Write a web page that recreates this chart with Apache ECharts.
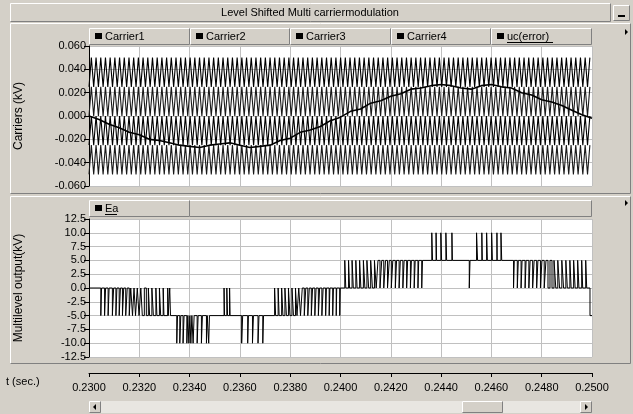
<!DOCTYPE html>
<html>
<head>
<meta charset="utf-8">
<script src="https://cdn.jsdelivr.net/npm/echarts@6/dist/echarts.min.js"></script>
<style>
  html, body { margin: 0; padding: 0; background: #d4d0c8; }
  #chart { width: 633px; height: 414px; }
</style>
</head>
<body>
<div id="chart"></div>
<script>
// time window and tick spacing (seconds)
var tMin = 0.2300, tMax = 0.2500, tStep = 0.002;

// carriers: level shifted bands (kV) and carrier period
var carrierNames = ['Carrier1', 'Carrier2', 'Carrier3', 'Carrier4'];
var carrierLow = [0.025, 0.000, -0.025, -0.050];
var carrierHigh = [0.050, 0.025, 0.000, -0.025];
var carrierColors = ['#000000', '#1a1a1a', '#000000', '#1a1a1a'];
var carrierPeriod = 0.000187;

// reference uc(error)
var ucTimes = [0.2300, 0.2304, 0.2308, 0.2312, 0.2316, 0.2320, 0.2324, 0.2328, 0.2332, 0.2336,
  0.2340, 0.2344, 0.2348, 0.2352, 0.2356, 0.2360, 0.2364, 0.2368, 0.2372, 0.2376,
  0.2380, 0.2384, 0.2388, 0.2392, 0.2396, 0.2400, 0.2404, 0.2408, 0.2412, 0.2416,
  0.2420, 0.2424, 0.2428, 0.2432, 0.2436, 0.2440, 0.2444, 0.2448, 0.2452, 0.2456,
  0.2460, 0.2464, 0.2468, 0.2472, 0.2476, 0.2480, 0.2484, 0.2488, 0.2492, 0.2496, 0.2500];
var ucValues = [0.000, -0.003, -0.007, -0.010, -0.014, -0.016, -0.020, -0.021, -0.023, -0.025,
  -0.026, -0.027, -0.025, -0.024, -0.023, -0.025, -0.027, -0.026, -0.025, -0.021,
  -0.019, -0.014, -0.012, -0.009, -0.004, -0.001, 0.004, 0.006, 0.011, 0.013,
  0.017, 0.019, 0.023, 0.024, 0.026, 0.027, 0.026, 0.024, 0.023, 0.026,
  0.027, 0.025, 0.024, 0.020, 0.018, 0.014, 0.012, 0.009, 0.005, 0.001, -0.002];

// Ea switching instants [time, level after switch] (kV), run by run
var eaRunA = [[0.23000, 0],
  [0.23047, -5], [0.23050, 0], [0.23062, -5], [0.23066, 0], [0.23076, -5], [0.23080, 0],
  [0.23093, -5], [0.23098, 0], [0.23107, -5], [0.23111, 0], [0.23120, -5], [0.23125, 0],
  [0.23133, -5], [0.23138, 0], [0.23146, -5], [0.23152, 0], [0.23160, -5], [0.23166, 0],
  [0.23173, -5], [0.23179, 0], [0.23185, -5], [0.23192, 0], [0.23199, -5], [0.23206, 0],
  [0.23212, -5], [0.23220, 0], [0.23228, -5], [0.23236, 0], [0.23241, -5], [0.23250, 0],
  [0.23256, -5], [0.23266, 0], [0.23270, -5], [0.23280, 0], [0.23285, -5], [0.23295, 0],
  [0.23298, -5], [0.23313, 0], [0.23315, -5], [0.23321, 0], [0.23324, -5]];
var eaRunB = [
  [0.23349, -10], [0.23352, -5], [0.23361, -10], [0.23365, -5], [0.23374, -10], [0.23378, -5],
  [0.23389, -10], [0.23393, -5], [0.23397, -10], [0.23401, -5], [0.23405, -10], [0.23409, -5],
  [0.23414, -10], [0.23418, -5], [0.23430, -10], [0.23434, -5], [0.23447, -10], [0.23451, -5],
  [0.23467, -10], [0.23470, -5], [0.23476, -10], [0.23479, -5]];
var eaRunC = [[0.23537, 0], [0.23539, -5], [0.23548, 0], [0.23551, -5], [0.23559, 0], [0.23561, -5]];
var eaRunD = [
  [0.23607, -10], [0.23611, -5], [0.23631, -10], [0.23634, -5], [0.23650, -10], [0.23654, -5],
  [0.23672, -10], [0.23676, -5], [0.23691, -10], [0.23694, -5]];
var eaRunE = [
  [0.23738, 0], [0.23742, -5], [0.23752, 0], [0.23756, -5], [0.23766, 0], [0.23771, -5],
  [0.23779, 0], [0.23785, -5], [0.23793, 0], [0.23799, -5], [0.23807, 0], [0.23813, -5],
  [0.23821, 0], [0.23827, -5], [0.23834, 0], [0.23841, -5], [0.23848, 0], [0.23856, -5],
  [0.23862, 0], [0.23870, -5], [0.23876, 0], [0.23884, -5], [0.23889, 0], [0.23898, -5],
  [0.23903, 0], [0.23912, -5], [0.23917, 0], [0.23926, -5], [0.23931, 0], [0.23941, -5],
  [0.23944, 0], [0.23955, -5], [0.23958, 0], [0.23969, -5], [0.23972, 0], [0.23983, -5],
  [0.23985, 0], [0.23997, -5], [0.23999, 0]];
var eaRunF = [
  [0.24017, 5], [0.24021, 0], [0.24032, 5], [0.24036, 0], [0.24046, 5], [0.24051, 0],
  [0.24061, 5], [0.24066, 0], [0.24076, 5], [0.24081, 0], [0.24091, 5], [0.24097, 0],
  [0.24105, 5], [0.24112, 0], [0.24120, 5], [0.24127, 0], [0.24135, 5], [0.24142, 0],
  [0.24149, 5], [0.24157, 0], [0.24164, 5], [0.24172, 0], [0.24179, 5], [0.24187, 0],
  [0.24194, 5], [0.24202, 0], [0.24208, 5], [0.24218, 0], [0.24223, 5], [0.24233, 0],
  [0.24238, 5], [0.24248, 0], [0.24253, 5], [0.24263, 0], [0.24267, 5], [0.24278, 0],
  [0.24282, 5], [0.24293, 0], [0.24297, 5], [0.24308, 0], [0.24311, 5], [0.24323, 0],
  [0.24326, 5]];
var eaRunG = [
  [0.24363, 10], [0.24366, 5], [0.24380, 10], [0.24382, 5], [0.24399, 10], [0.24402, 5],
  [0.24419, 10], [0.24422, 5], [0.24443, 10], [0.24445, 5]];
var eaRunH = [[0.24512, 0], [0.24515, 5]];
var eaRunI = [
  [0.24541, 10], [0.24545, 5], [0.24562, 10], [0.24564, 5], [0.24581, 10], [0.24584, 5],
  [0.24601, 10], [0.24604, 5], [0.24622, 10], [0.24623, 5], [0.24638, 10], [0.24641, 5]];
var eaRunJ = [
  [0.24688, 0], [0.24691, 5], [0.24703, 0], [0.24707, 5], [0.24718, 0], [0.24722, 5],
  [0.24734, 0], [0.24738, 5], [0.24749, 0], [0.24754, 5], [0.24764, 0], [0.24770, 5],
  [0.24780, 0], [0.24785, 5], [0.24795, 0], [0.24801, 5], [0.24810, 0], [0.24817, 5],
  [0.24825, 0], [0.24833, 5], [0.24841, 0], [0.24849, 5], [0.24856, 0], [0.24864, 5],
  [0.24871, 0], [0.24880, 5], [0.24887, 0], [0.24896, 5], [0.24902, 0], [0.24912, 5],
  [0.24917, 0], [0.24927, 5], [0.24933, 0], [0.24943, 5], [0.24948, 0], [0.24959, 5],
  [0.24963, 0], [0.24975, 5], [0.24979, 0], [0.24992, -5], [0.25000, -5]];

var FONT = '"Liberation Sans", Arial, sans-serif';
var PANEL = '#d4d0c8';

function carrierData(lo, hi) {
  var pts = [], n = 0, t = tMin;
  while (t <= tMax + 1e-9) {
    pts.push([t, n % 2 ? hi : lo]);
    n++;
    t = tMin + n * carrierPeriod / 2;
  }
  return pts;
}

function eaData() {
  return [].concat(eaRunA, eaRunB, eaRunC, eaRunD, eaRunE, eaRunF, eaRunG, eaRunH, eaRunI, eaRunJ);
}

function ucData() {
  var d = [];
  for (var i = 0; i < ucTimes.length; i++)
    d.push([ucTimes[i], ucValues[i]]);
  return d;
}

// windows-style raised box
function bevel(x, y, w, h, fill) {
  var els = [];
  if (fill)
    els.push({ type: 'rect', shape: { x: x, y: y, width: w, height: h }, style: { fill: fill } });
  els.push({ type: 'polyline', shape: { points: [[x + 0.5, y + h - 0.5], [x + 0.5, y + 0.5], [x + w - 0.5, y + 0.5]] },
    style: { stroke: '#ffffff', lineWidth: 1, fill: null } });
  els.push({ type: 'polyline', shape: { points: [[x + 0.5, y + h - 0.5], [x + w - 0.5, y + h - 0.5], [x + w - 0.5, y + 0.5]] },
    style: { stroke: '#808080', lineWidth: 1, fill: null } });
  return els;
}

function label(txt, x, y, size, align, rot) {
  return {
    type: 'text', x: x, y: y, rotation: rot || 0,
    style: { text: txt, fill: '#000', font: size + 'px ' + FONT,
      align: align, textAlign: align, verticalAlign: 'middle', textVerticalAlign: 'middle' }
  };
}

function tab(x, y, w, name, underline) {
  var els = bevel(x, y, w, 17, PANEL);
  els.push({ type: 'rect', shape: { x: x + 6, y: y + 5, width: 7, height: 6 }, style: { fill: '#000' } });
  els.push(label(name, x + 16, y + 8.5, 11, 'left'));
  if (underline)
    els.push({ type: 'line', shape: { x1: x + 16, y1: y + 14.5, x2: x + 16 + underline, y2: y + 14.5 },
      style: { stroke: '#000', lineWidth: 1 } });
  return els;
}

function arrow(x, y, dir) {
  var pts = dir > 0 ? [[x, y - 3], [x + 3, y], [x, y + 3]] : [[x + 3, y - 3], [x, y], [x + 3, y + 3]];
  return { type: 'polygon', shape: { points: pts }, style: { fill: '#000' } };
}

var graphics = [];
graphics = graphics.concat(bevel(10, 3, 601, 19, PANEL));
graphics.push(label('Level Shifted Multi carriermodulation', 310, 12.5, 11, 'center'));
graphics = graphics.concat(bevel(613, 5, 17, 16, PANEL));
graphics.push({ type: 'line', shape: { x1: 618, y1: 16, x2: 625, y2: 16 }, style: { stroke: '#000', lineWidth: 2 } });
graphics = graphics.concat(bevel(10, 23, 621, 171));
graphics = graphics.concat(bevel(10, 196, 621, 168));

var tabX = [89, 190, 290, 391, 491, 592];
for (var i = 0; i < 5; i++) {
  var nm = i < 4 ? carrierNames[i] : 'uc(error)';
  graphics = graphics.concat(tab(tabX[i], 28, tabX[i + 1] - tabX[i], nm, i == 4 ? 46 : 0));
}
graphics = graphics.concat(bevel(89, 200, 503, 17, PANEL));
graphics = graphics.concat(tab(89, 200, 101, 'Ea', 12));
graphics.push(arrow(625, 32, 1));
graphics.push(arrow(625, 203, 1));

graphics.push(label('Carriers (kV)', 19, 116, 12, 'center', Math.PI / 2));
graphics.push(label('Multilevel output(kV)', 19, 288, 12, 'center', Math.PI / 2));
graphics.push(label('t (sec.)', 6, 382, 11, 'left'));

// scroll bar
graphics.push({ type: 'rect', shape: { x: 89, y: 401, width: 503, height: 12 }, style: { fill: '#e8e6e1' } });
graphics = graphics.concat(bevel(89, 401, 12, 12, PANEL));
graphics = graphics.concat(bevel(580, 401, 12, 12, PANEL));
graphics = graphics.concat(bevel(462, 401, 41, 12, PANEL));
graphics.push(arrow(93, 407, -1));
graphics.push(arrow(585, 407, 1));

function plotX(gi) {
  return {
    type: 'value', gridIndex: gi, min: tMin, max: tMax, interval: tStep,
    axisLine: { show: false }, axisTick: { show: false }, axisLabel: { show: false },
    splitLine: { show: true, lineStyle: { color: '#c0c0c0', width: 1 } }
  };
}

function plotY(gi, min, max, step, digits) {
  return {
    type: 'value', gridIndex: gi, min: min, max: max, interval: step,
    axisLine: { show: true, lineStyle: { color: '#000', width: 1 } },
    axisTick: { show: true, length: 5, lineStyle: { color: '#000' } },
    axisLabel: { margin: 3, color: '#000', fontSize: 11, fontFamily: FONT,
      formatter: function (v) { return Math.abs(v) < 1e-9 ? (0).toFixed(digits) : v.toFixed(digits); } },
    splitLine: { show: true, lineStyle: { color: '#c0c0c0', width: 1 } }
  };
}

var series = [];
for (var k = 0; k < carrierNames.length; k++) {
  series.push({
    name: carrierNames[k], type: 'line', xAxisIndex: 0, yAxisIndex: 0,
    data: carrierData(carrierLow[k], carrierHigh[k]),
    symbol: 'none', silent: true,
    lineStyle: { color: carrierColors[k], width: 1.1 }
  });
}
series.push({
  name: 'uc(error)', type: 'line', xAxisIndex: 0, yAxisIndex: 0, data: ucData(),
  symbol: 'none', silent: true, z: 3,
  lineStyle: { color: '#000', width: 1.6 }
});
series.push({
  name: 'Ea', type: 'line', step: 'end', xAxisIndex: 1, yAxisIndex: 1, data: eaData(),
  symbol: 'none', silent: true,
  lineStyle: { color: '#000', width: 1 }
});

var chart = echarts.init(document.getElementById('chart'));
chart.setOption({
  animation: false,
  backgroundColor: PANEL,
  textStyle: { fontFamily: FONT },
  grid: [
    { left: 89, top: 46, width: 503, height: 140, show: true, backgroundColor: '#ffffff', borderWidth: 0 },
    { left: 89, top: 219, width: 503, height: 138, show: true, backgroundColor: '#ffffff', borderWidth: 0 },
    { left: 89, top: 372, width: 503, height: 1 }
  ],
  xAxis: [
    plotX(0), plotX(1),
    {
      type: 'value', gridIndex: 2, min: tMin, max: tMax, interval: tStep,
      axisLine: { lineStyle: { color: '#000' } },
      axisTick: { length: 4, lineStyle: { color: '#000' } },
      axisLabel: { margin: 9, color: '#000', fontSize: 11, fontFamily: FONT, showMinLabel: true, showMaxLabel: true,
        formatter: function (v) { return v.toFixed(4); } },
      splitLine: { show: false }
    }
  ],
  yAxis: [
    plotY(0, -0.06, 0.06, 0.02, 3),
    plotY(1, -12.5, 12.5, 2.5, 1),
    { type: 'value', gridIndex: 2, show: false }
  ],
  series: series,
  graphic: { elements: graphics }
});
</script>
</body>
</html>
